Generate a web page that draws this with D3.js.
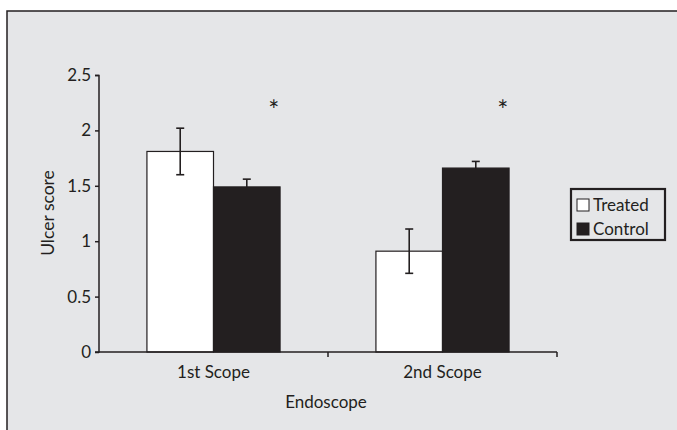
<!DOCTYPE html>
<html>
<head>
<meta charset="utf-8">
<script src="https://cdn.jsdelivr.net/npm/d3@7"></script>
<style>
  body { margin: 0; background: #fff; }
  svg { display: block; }
  text { font-family: Lato, "Open Sans", sans-serif; fill: #231f20; }
</style>
</head>
<body>
<svg width="677" height="430"></svg>
<script>
// chart values
const categories = ['1st Scope', '2nd Scope'];
const series = ['Treated', 'Control'];
const treated = [1.81, 0.91];
const treatedErr = [0.21, 0.2];
const control = [1.49, 1.66];
const controlErr = [0.07, 0.06];
const yTicks = [0, 0.5, 1, 1.5, 2, 2.5];
const starLevel = 2.09;

const ink = '#231f20';
const svg = d3.select('svg');

// panel background with frame on top/left
svg.append('rect')
  .attr('x', 7).attr('y', 11)
  .attr('width', 680).attr('height', 430)
  .attr('fill', '#e5e6e8')
  .attr('stroke', ink)
  .attr('stroke-width', 1.5);

const y = d3.scaleLinear().domain([0, 2.5]).range([352, 75]);
const x0 = d3.scaleBand().domain(categories).range([99, 557]);
const x1 = d3.scaleBand().domain(series).range([0, x0.bandwidth()]).paddingOuter(0.72);

const rows = categories.map((c, i) => ({
  cat: c,
  vals: [
    { s: 'Treated', v: treated[i], e: treatedErr[i] },
    { s: 'Control', v: control[i], e: controlErr[i] },
  ],
}));

// y axis
const yAxis = svg.append('g')
  .attr('transform', 'translate(99,0)')
  .call(d3.axisLeft(y).tickValues(yTicks).tickSize(4).tickPadding(4)
    .tickFormat((d) => (d === 0 ? '0' : d3.format('')(d))));
yAxis.select('.domain').attr('stroke', ink).attr('stroke-width', 1.5).attr('d', 'M-4,75.5H0V352H-4');
yAxis.selectAll('.tick line').attr('stroke', ink).attr('stroke-width', 1.5);
yAxis.selectAll('.tick text').style('font-size', '17px').attr('fill', ink);

// bars
const groups = svg.append('g').selectAll('g')
  .data(rows)
  .join('g')
  .attr('transform', (d) => `translate(${x0(d.cat)},0)`);

// error bars (drawn under control bars so only the upper half shows)
groups.selectAll('g.err')
  .data((d) => d.vals)
  .join('g')
  .attr('class', 'err')
  .each(function (d) {
    const g = d3.select(this);
    const cx = x1(d.s) + x1.bandwidth() / 2;
    g.append('line').attr('x1', cx).attr('x2', cx)
      .attr('y1', y(d.v + d.e)).attr('y2', y(d.v - d.e));
    [d.v + d.e, d.v - d.e].forEach((v) => {
      g.append('line').attr('x1', cx - 4).attr('x2', cx + 4)
        .attr('y1', y(v)).attr('y2', y(v));
    });
  })
  .attr('stroke', ink)
  .attr('stroke-width', 1.6);

groups.selectAll('rect')
  .data((d) => d.vals)
  .join('rect')
  .attr('x', (d) => x1(d.s))
  .attr('y', (d) => y(d.v))
  .attr('width', x1.bandwidth())
  .attr('height', (d) => y(0) - y(d.v))
  .attr('fill', (d) => (d.s === 'Treated' ? '#fff' : ink))
  .attr('stroke', ink)
  .attr('stroke-width', 1.2);

// treated error bars above the white bars
groups.selectAll('g.err')
  .filter((d) => d.s === 'Treated')
  .raise();

// x axis
const xAxis = svg.append('g');
xAxis.append('line')
  .attr('x1', 99).attr('x2', 557)
  .attr('y1', y(0)).attr('y2', y(0))
  .attr('stroke', ink).attr('stroke-width', 1.6);
xAxis.selectAll('line.tick')
  .data(categories)
  .join('line')
  .attr('class', 'tick')
  .attr('x1', (d) => x0(d) + x0.step())
  .attr('x2', (d) => x0(d) + x0.step())
  .attr('y1', y(0)).attr('y2', y(0) + 5)
  .attr('stroke', ink).attr('stroke-width', 1.5);
xAxis.selectAll('text')
  .data(categories)
  .join('text')
  .attr('x', (d) => x0(d) + x0.bandwidth() / 2)
  .attr('y', 378)
  .attr('text-anchor', 'middle')
  .style('font-size', '17px')
  .text((d) => d);

// significance stars
svg.append('g').selectAll('text')
  .data(categories)
  .join('text')
  .attr('x', (d) => x0(d) + x1('Control') + x1.bandwidth() / 2 + 27)
  .attr('y', y(starLevel))
  .attr('text-anchor', 'middle')
  .style('font-size', '26px')
  .attr('fill', '#555')
  .text('*');

// axis titles
svg.append('text')
  .attr('x', 326).attr('y', 408)
  .attr('text-anchor', 'middle')
  .style('font-size', '17px')
  .text('Endoscope');
svg.append('text')
  .attr('transform', 'translate(54,213) rotate(-90)')
  .attr('text-anchor', 'middle')
  .style('font-size', '17.5px')
  .text('Ulcer score');

// legend
const legend = svg.append('g').attr('transform', 'translate(571,189)');
legend.append('rect')
  .attr('width', 94).attr('height', 51)
  .attr('fill', '#e5e6e8')
  .attr('stroke', ink).attr('stroke-width', 2.2);
const item = legend.selectAll('g.item')
  .data(series)
  .join('g')
  .attr('class', 'item')
  .attr('transform', (d, i) => `translate(6,${10 + i * 24})`);
item.append('rect')
  .attr('width', 12).attr('height', 12)
  .attr('fill', (d) => (d === 'Treated' ? '#fff' : ink))
  .attr('stroke', ink).attr('stroke-width', 1);
item.append('text')
  .attr('x', 16).attr('y', 12)
  .style('font-size', '17px')
  .text((d) => d);
</script>
</body>
</html>
